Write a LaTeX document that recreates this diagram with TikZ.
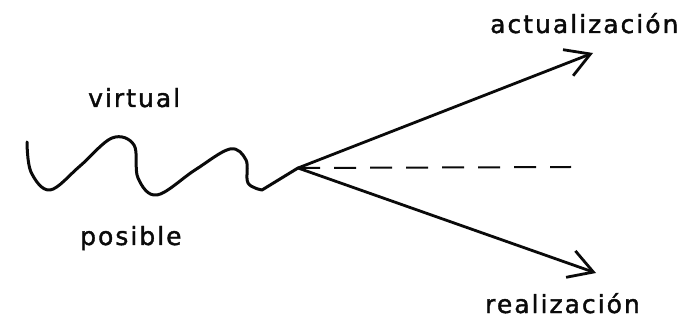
\documentclass[tikz,border=0pt]{standalone}
\usepackage{fontspec}
\usepackage{tikz}
\usetikzlibrary{arrows.meta}
\newfontfamily\handfont[LetterSpace=8,FakeBold=1.5]{DejaVu Sans}
\definecolor{inkBlack}{HTML}{0A0A0A}
\tikzset{
  wordlabel/.style={font=\handfont\fontsize{25}{28}\selectfont, text=inkBlack, anchor=base west, inner sep=0pt},
  wavyline/.style={draw=inkBlack, line width=3pt, line cap=round, line join=round},
  openarrow/.style={-{Straight Barb[length=24pt,width=28pt,line width=2.8pt]}, draw=inkBlack, line width=2.8pt, line cap=round},
  axisdash/.style={draw=inkBlack, line width=2pt, dash pattern=on 22pt off 14pt},
}

\begin{document}
\begin{tikzpicture}[x=1pt,y=-1pt]
  \useasboundingbox (0,0) rectangle (696,320);

  % labels
  \node[wordlabel] (virt) at (88,107) {virtual};
  \node[wordlabel] (pos) at (80,245) {posible};
  \node[wordlabel] (act) at (490,33) {actualización};
  \node[wordlabel] (rea) at (485,313) {realización};

  % branching point and free ends
  \coordinate (o) at (298,168);
  \coordinate (up) at (593,53);
  \coordinate (down) at (596,273);
  \coordinate (ahead) at (571,167);

  % wave
  \draw[wavyline] plot[smooth, tension=0.6] coordinates {(27,142) (31,172) (50,190) (80,166) (112,138) (134,145) (138,178) (157,195) (195,170) (230,149) (246,160) (248,183) (262,190)} -- (o);

  \draw[openarrow] (o) -- (up);
  \draw[openarrow] (o) -- (down);
  \draw[axisdash] (o) -- (ahead);
\end{tikzpicture}
\end{document}
